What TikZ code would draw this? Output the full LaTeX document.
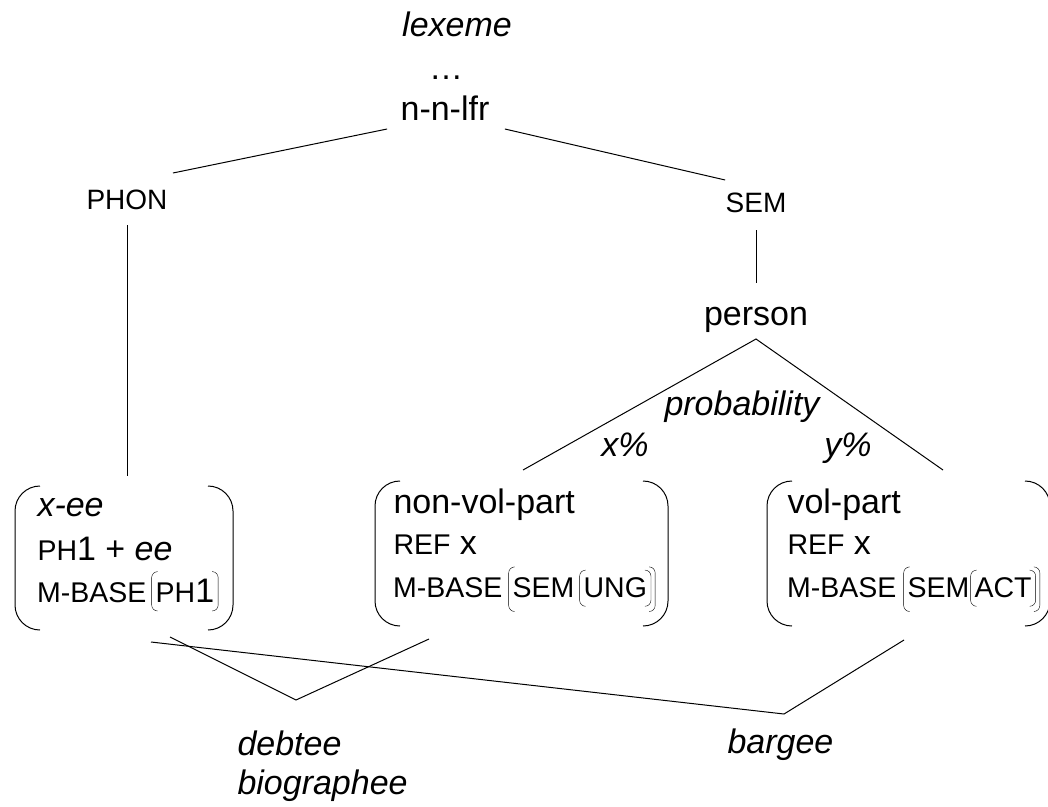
\documentclass[tikz,border=0pt]{standalone}
\usepackage{fontspec}
\setmainfont{Liberation Sans}
\usetikzlibrary{positioning}

% small capitals size
\newcommand{\sm}{\fontsize{28.5}{32}\selectfont}
% rounded bracket round inline material
\newcommand{\rbr}[2][7pt]{\tikz[baseline=(br.base)]{%
  \node[inner sep=0pt, outer sep=0pt, anchor=base, draw=none] (br) {#2};
  \draw[rounded corners=6pt] ([xshift=2pt,yshift=#1]br.north west) -- ([xshift=-4pt,yshift=#1]br.north west)
    -- ([xshift=-4pt,yshift={-#1-2pt}]br.south west) -- ([xshift=2pt,yshift={-#1-2pt}]br.south west);
  \draw[rounded corners=6pt] ([xshift=-2pt,yshift=#1]br.north east) -- ([xshift=4pt,yshift=#1]br.north east)
    -- ([xshift=4pt,yshift={-#1-2pt}]br.south east) -- ([xshift=-2pt,yshift={-#1-2pt}]br.south east);}}
% big round brackets of a feature box
\newcommand{\parens}[1]{%
  \draw[rounded corners=25pt] ([xshift=25pt]#1.north west) -- (#1.north west) -- (#1.south west) -- ([xshift=25pt]#1.south west);
  \draw[rounded corners=25pt] ([xshift=-25pt]#1.north east) -- (#1.north east) -- (#1.south east) -- ([xshift=-25pt]#1.south east);}

\begin{document}
\begin{tikzpicture}[x=1pt, y=-1pt, line width=1pt,
  txt/.style={inner sep=0pt, anchor=base, font=\fontsize{34}{40}\selectfont},
  itxt/.style={txt, font=\fontsize{34}{40}\selectfont\itshape},
  sctxt/.style={txt, font=\fontsize{28}{32}\selectfont},
  boxline/.style={txt, anchor=base west},
  pbox/.style={minimum width=#1, minimum height=145pt, inner sep=0pt, outer sep=0pt}]
    \useasboundingbox (0,0) rectangle (1048,806);
    \clip (0,0) rectangle (1048,806);

    % top of the hierarchy
    \node[itxt] (lex) at (457,36) {lexeme};
    \node[txt] (dots) at (446,79) {…};
    \node[txt] (nnl) at (445,120) {n-n-lfr};
    \node[sctxt] (phon) at (127,209) {PHON};
    \node[sctxt] (sem) at (756,212) {SEM};
    \node[txt] (pers) at (756,325) {person};
    \node[itxt] (prob) at (742,415) {probability};
    \node[itxt] (xp) at (625,456) {x\%};
    \node[itxt] (yp) at (848,456) {y\%};

    % feature boxes
    \node[pbox=218pt, minimum height=144pt] (xee) at (124,558) {};
    \node[pbox=293pt] (nvp) at (521.5,553.5) {};
    \node[pbox=283pt] (vp) at (908.5,553.5) {};
    \parens{xee}
    \parens{nvp}
    \parens{vp}

    \node[boxline, font=\fontsize{34}{40}\selectfont\itshape] (xee1) at (37,516) {x-ee};
    \node[boxline] (xee2) at (37,560) {{\sm PH}1 + \textit{ee}};
    \node[boxline] (xee3) at (37,602) {{\sm M-BASE}\hspace{5pt}\rbr{{\sm PH}1}};

    \node[boxline] (nvp1) at (393,513) {non-vol-part};
    \node[boxline] (nvp2) at (393,554) {{\sm REF} x};
    \node[boxline] (nvp3) at (393,597) {{\sm M-BASE}\hspace{6pt}\rbr[3pt]{{\sm SEM}\hspace{5pt}\rbr{{\sm UNG}}}};

    \node[boxline] (vp1) at (787,513) {vol-part};
    \node[boxline] (vp2) at (787,554) {{\sm REF} x};
    \node[boxline] (vp3) at (787,597) {{\sm M-BASE}\hspace{7pt}\rbr[3pt]{{\sm SEM}\hspace{1pt}\rbr{{\sm ACT}}}};

    % words
    \node[itxt, anchor=base west] (deb1) at (237,755) {debtee};
    \node[itxt, anchor=base west] (deb2) at (237,794) {biographee};
    \node[itxt, anchor=base west] (barg) at (727,753) {bargee};
    \coordinate (dbt) at (296,700);
    \coordinate (bgt) at (784,714);

    % tree lines
    \draw ([xshift=-13pt,yshift=-9pt]nnl.base west) -- ([xshift=5pt,yshift=36pt]phon.base east);
    \draw ([xshift=15pt,yshift=-9pt]nnl.base east) -- ([yshift=32pt]sem.base west);
    \draw ([yshift=-16pt]phon.base) -- ([xshift=3pt,yshift=10pt]xee.north);
    \draw ([yshift=-18pt]sem.base) -- ([yshift=42pt]pers.base);
    \draw ([xshift=1.5pt,yshift=11pt]nvp.north) -- ([yshift=-14pt]pers.base) -- ([xshift=34.5pt,yshift=11pt]vp.north);

    % links to the words
    \draw ([xshift=46pt,yshift=-7pt]xee.south) -- (dbt) -- ([xshift=-92.5pt,yshift=-13pt]nvp.south);
    \draw ([xshift=27pt,yshift=-12pt]xee.south) -- (bgt) -- ([xshift=-4.5pt,yshift=-14pt]vp.south);
\end{tikzpicture}
\end{document}
